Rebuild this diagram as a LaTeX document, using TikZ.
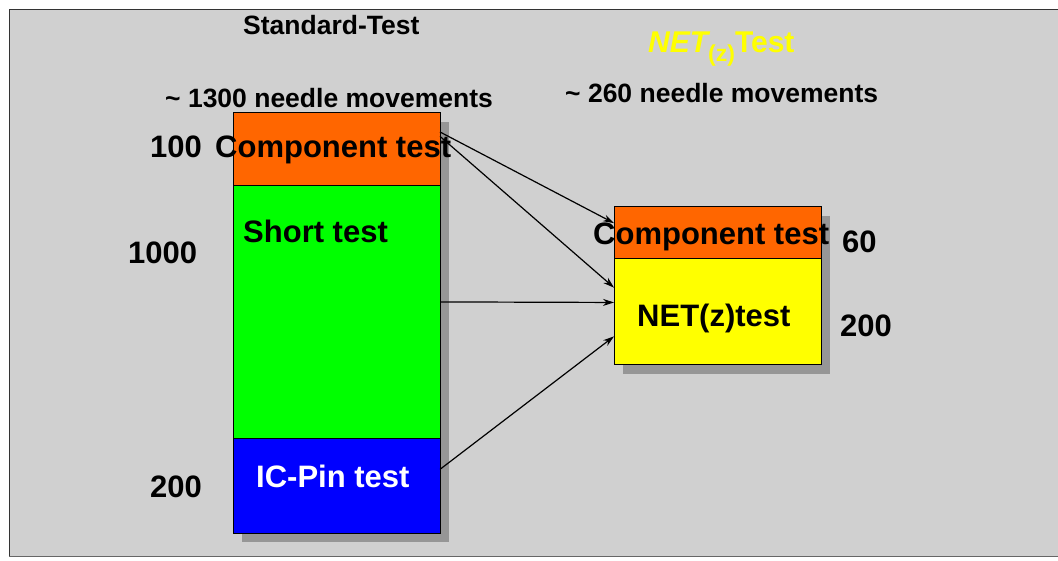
\documentclass[tikz,border=0pt]{standalone}
\usepackage{fontspec}
\setmainfont{Liberation Sans}
\usetikzlibrary{calc,arrows.meta}
\definecolor{panel}{RGB}{208,208,208}
\definecolor{boxshadow}{RGB}{150,150,150}
\definecolor{ctorange}{RGB}{255,102,0}
\definecolor{stgreen}{RGB}{0,255,0}
\definecolor{icblue}{RGB}{0,0,255}
\definecolor{netyellow}{RGB}{255,255,0}
\begin{document}
\begin{tikzpicture}[x=1pt,y=-1pt,
  big/.style={font=\fontsize{31}{31}\selectfont\bfseries, inner sep=0pt, anchor=base west},
  head/.style={font=\fontsize{26.5}{26.5}\selectfont\bfseries, inner sep=0pt, anchor=base west},
  bar/.style={draw=black, line width=1pt, minimum width=207pt, anchor=north west, inner sep=0pt, outer sep=0pt},
  link/.style={draw=black, line width=1.2pt, -{Stealth[length=11pt,width=7pt]}}]
\useasboundingbox (0,0) rectangle (1058,561);

% slide panel
\fill[panel] (9,9) rectangle (1058,556);
\draw[black!80, line width=1.5pt] (9.5,556) -- (9.5,9.5) -- (1058,9.5);
\draw[black!60, line width=1.5pt] (9,556.5) -- (1058,556.5);

% drop shadows of the two stacks
\fill[boxshadow] (242,122) rectangle (449,542);
\fill[boxshadow] (623,216) rectangle (830,374);

% standard test stack
\node[bar, fill=ctorange, minimum height=73pt] (lct) at (233,113) {};
\node[bar, fill=stgreen, minimum height=252pt] (lshort) at (233,186) {};
\node[bar, fill=icblue, minimum height=95pt] (lic) at (233,438) {};

% NET(z) test stack
\node[bar, fill=ctorange, minimum height=52pt] (rct) at (614,207) {};
\node[bar, fill=netyellow, minimum height=106pt] (rnet) at (614,259) {};

% headings
\node[head] (stdtitle) at (243,35) {Standard-Test};
\node[head] (stdmoves) at (165,108) {\char`\~\ 1300 needle movements};
\node[head, text=netyellow, font=\fontsize{30}{30}\selectfont\bfseries] (nettitle) at (648,53)
  {\itshape NET\upshape\raisebox{-9pt}{\fontsize{23}{23}\selectfont (z)}Test};
\node[head] (netmoves) at (565,103) {\char`\~\ 260 needle movements};

% labels of the standard test
\node[big] (n100) at (150,158) {100};
\node[big] (lcttext) at (215,158) {Component test};
\node[big] (n1000) at (128,264) {1000};
\node[big] (shorttext) at (243,243) {Short test};
\node[big] (n200l) at (150,497) {200};
\node[big, text=white] (ictext) at (256,487) {IC-Pin test};

% labels of the NET(z) test
\node[big] (rcttext) at (593,245) {Component test};
\node[big] (n60) at (842,253) {60};
\node[big] (nettext) at (637,327) {NET(z)test};
\node[big] (n200r) at (840,337) {200};

% mapping arrows
\draw[link] ($(lct.north east)!0.26!(lct.south east)$) -- ($(rct.north west)!0.31!(rct.south west)$);
\draw[link] ($(lct.north east)!0.32!(lct.south east)$) -- ($(rnet.north west)!0.27!(rnet.south west)$);
\draw[link] ($(lshort.north east)!0.46!(lshort.south east)$) -- ($(rnet.north west)!0.41!(rnet.south west)$);
\draw[link] ($(lic.north east)!0.33!(lic.south east)$) -- ($(rnet.north west)!0.73!(rnet.south west)$);
\end{tikzpicture}
\end{document}
